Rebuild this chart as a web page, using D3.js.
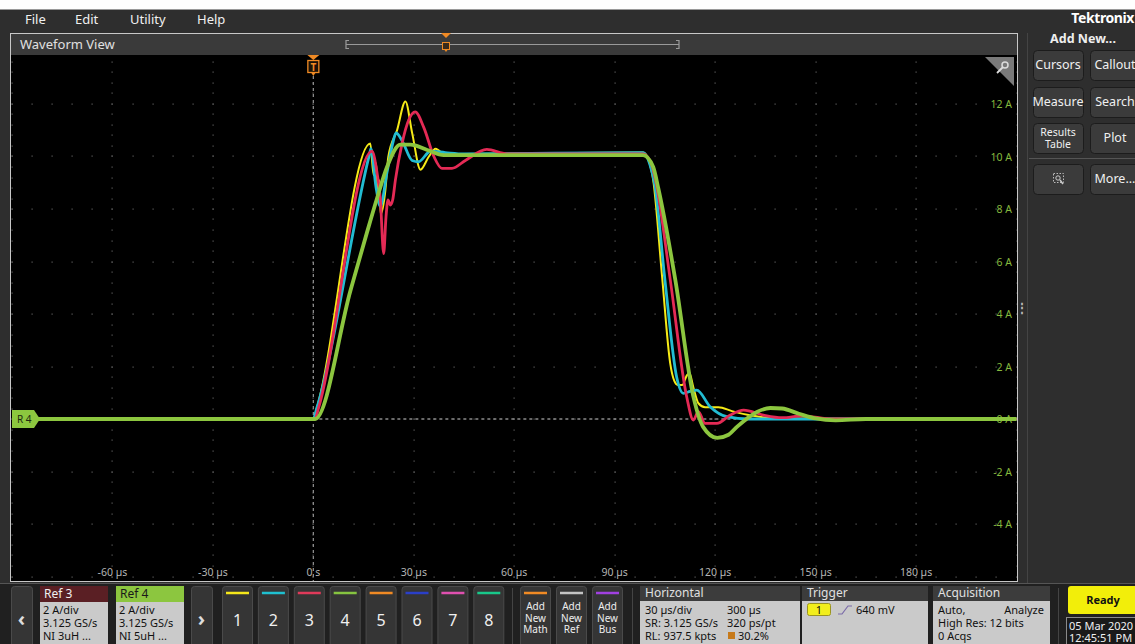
<!DOCTYPE html>
<html>
<head>
<meta charset="utf-8">
<script src="https://cdn.jsdelivr.net/npm/d3@7"></script>
<style>
  body { margin: 0; background: #fff; overflow: hidden; }
  svg { display: block; font-family: "Noto Sans", "Open Sans", sans-serif; }
</style>
</head>
<body>
<script>
window.onload = main;

// axis ticks
const timeTicks = [-60, -30, 0, 30, 60, 90, 120, 150, 180];
const timeLabels = ["-60 µs", "-30 µs", "0 s", "30 µs", "60 µs", "90 µs", "120 µs", "150 µs", "180 µs"];
const ampTicks = [12, 10, 8, 6, 4, 2, 0, -2, -4];
const ampLabels = ["12 A", "10 A", "8 A", "6 A", "4 A", "2 A", "0 A", "-2 A", "-4 A"];

// traces, time in µs, current in A
const yellowT = [-90, 0, 1, 17, 18, 18.7, 19.3, 19.7, 20.1, 21.5, 22.4, 25, 27.5, 29.5, 32, 34.5, 36.5, 39.5, 45, 98.5, 100, 101.5, 104.1, 106.6, 107.8, 108.8, 110.2, 111.5, 112.3, 113.5, 115, 117, 121, 125, 130, 140, 210];
const yellowI = [0, 0, 0.4, 10.5, 9.3, 9.75, 8.7, 9.1, 7.8, 8.7, 10.0, 11.0, 12.1, 10.9, 9.5, 10.0, 10.3, 10.05, 10.1, 10.15, 9.9, 9.1, 5.5, 2.1, 1.45, 1.3, 1.3, 1.65, 1.75, 1.2, 0.6, 0.45, 0.45, 0.3, 0.15, 0.02, 0];

const cyanT = [-90, 0, 1, 16.8, 17.2, 18.7, 20, 22, 23.7, 24.7, 26.5, 29.5, 31.4, 35, 39.4, 45, 98.5, 100.5, 102, 105, 108.5, 110.5, 112.5, 114.5, 118.5, 123.5, 130, 210];
const cyanI = [0, 0, 0.4, 10.1, 10.3, 8.85, 8.1, 9.4, 10.5, 10.9, 10.6, 9.85, 9.8, 10.2, 10.15, 10.1, 10.15, 9.7, 8.9, 5.3, 1.6, 0.98, 1.05, 1.1, 0.47, 0.09, 0, 0];

const redT = [-90, 0.5, 1.5, 17.5, 19, 20, 21, 21.7, 22.3, 23, 23.7, 24.5, 26.5, 28.5, 30.4, 33, 36, 38.4, 41.4, 45.4, 51.8, 57.8, 98.5, 101, 102.5, 106.6, 111.5, 113.5, 115, 117, 120.5, 124.5, 128.5, 134.4, 140, 146, 155, 210];
const redI = [0, 0, 0.4, 10.2, 9.4, 8.4, 6.3, 7.7, 8.35, 8.15, 8.35, 9.1, 10.5, 11.4, 11.7, 11.1, 10.0, 9.55, 9.55, 9.85, 10.27, 10.1, 10.1, 9.7, 8.9, 5.3, 0.85, -0.04, 0.28, -0.17, -0.17, 0.15, 0.34, 0.15, 0.05, 0.12, 0, 0];

const greenT = [-90, 0.5, 11.1, 16, 19, 22, 26, 29, 34, 38.9, 45.9, 98.5, 101.5, 103, 108.1, 113.5, 116.4, 120.6, 124, 126.5, 132.5, 136.5, 140, 145, 150, 156, 165, 210];
const greenI = [0, 0, 4.9, 7.1, 8.4, 9.6, 10.45, 10.45, 10.25, 10.05, 10.05, 10.05, 9.6, 8.8, 5.3, 0.85, -0.3, -0.72, -0.6, -0.3, 0.27, 0.42, 0.4, 0.2, 0.02, -0.05, 0, 0];

const menuItems = ["File", "Edit", "Utility", "Help"];
const menuX = [25, 75, 130, 197];

const chanNames = ["1", "2", "3", "4", "5", "6", "7", "8"];
const chanColors = ["#f5e71b", "#1fc0d0", "#e03a5a", "#86c440", "#f08a24", "#2a3fc8", "#e050b0", "#18c88a"];

const svgWidth = 1135;
const svgHeight = 644;

const plot = {left: 11, top: 55, right: 1017, bottom: 581};

function main() {
    const svg = d3.select("body")
        .append("svg")
        .attr("width", svgWidth)
        .attr("height", svgHeight);

    drawFrame(svg);
    drawPlot(svg);
    drawSidePanel(svg);
    drawBottomBar(svg);
}

function drawFrame(svg) {
    svg.append("rect").attr("x", 0).attr("y", 0).attr("width", svgWidth).attr("height", 9).attr("fill", "#fff");
    svg.append("rect").attr("x", 0).attr("y", 9).attr("width", svgWidth).attr("height", 574).attr("fill", "#2e2e2e");
    svg.append("line").attr("x1", 0).attr("x2", svgWidth).attr("y1", 9.5).attr("y2", 9.5).attr("stroke", "#9a9a9a");

    svg.selectAll(null)
        .data(menuItems)
        .join("text")
        .attr("x", (d, i) => menuX[i])
        .attr("y", 24)
        .attr("fill", "#f0f0f0")
        .attr("font-size", 13)
        .text(d => d);

    // waveform view panel header
    svg.append("rect").attr("x", 10).attr("y", 33).attr("width", 1007).attr("height", 22).attr("fill", "#3a3a3a");
    svg.append("rect").attr("x", 10.5).attr("y", 33.5).attr("width", 1007).attr("height", 548)
        .attr("fill", "none").attr("stroke", "#c8c8c8");
    svg.append("text").attr("x", 20).attr("y", 49).attr("fill", "#e0e0e0").attr("font-size", 13).text("Waveform View");

    // overview bar
    const ov = svg.append("g").attr("stroke", "#9a9a9a").attr("fill", "none").attr("stroke-width", 1.2);
    ov.append("line").attr("x1", 346).attr("x2", 679).attr("y1", 44.5).attr("y2", 44.5);
    ov.append("path").attr("d", "M349,40.5 H346 V48.5 H349");
    ov.append("path").attr("d", "M676,40.5 H679 V48.5 H676");
    svg.append("path").attr("d", "M441,33 H451 L446,38 Z").attr("fill", "#f08a24");
    svg.append("rect").attr("x", 442.5).attr("y", 42.5).attr("width", 7).attr("height", 7)
        .attr("fill", "#3a2a1a").attr("stroke", "#f08a24");
    svg.append("path").attr("d", "M444.5,50 L446,52 L447.5,50").attr("fill", "#f08a24");
}

function drawPlot(svg) {
    const x = d3.scaleLinear().domain([-90, 210]).range([12, 1016.5]);
    const y = d3.scaleLinear().domain([-6, 14]).range([576.5, 51.5]);

    svg.append("rect")
        .attr("x", plot.left).attr("y", plot.top)
        .attr("width", plot.right - plot.left).attr("height", plot.bottom - plot.top)
        .attr("fill", "#000");

    svg.append("clipPath").attr("id", "clip")
        .append("rect")
        .attr("x", plot.left).attr("y", plot.top)
        .attr("width", plot.right - plot.left).attr("height", plot.bottom - plot.top);

    const g = svg.append("g").attr("clip-path", "url(#clip)");

    // dotted graticule
    const majorT = d3.range(-90, 211, 30);
    const majorA = d3.range(-6, 15, 2);
    const dots = [];
    majorT.forEach(t => d3.range(-6, 14.01, 0.4).forEach(a => dots.push([t, a])));
    majorA.forEach(a => d3.range(-90, 210.01, 6).forEach(t => dots.push([t, a])));
    g.append("g")
        .selectAll(null)
        .data(dots)
        .join("rect")
        .attr("x", d => Math.round(x(d[0])) - 0.5)
        .attr("y", d => Math.round(y(d[1])) - 0.5)
        .attr("width", 1.2)
        .attr("height", 1.2)
        .attr("fill", "#5c5c5c");

    // trigger / zero reference lines
    g.append("line")
        .attr("x1", x(0)).attr("x2", x(0)).attr("y1", 76).attr("y2", plot.bottom)
        .attr("stroke", "#8a8a8a").attr("stroke-width", 1.3).attr("stroke-dasharray", "3,3");
    g.append("line")
        .attr("x1", x(0)).attr("x2", plot.right).attr("y1", y(0)).attr("y2", y(0))
        .attr("stroke", "#8a8a8a").attr("stroke-width", 1.3).attr("stroke-dasharray", "3,3");

    // tick labels
    g.selectAll(null)
        .data(timeTicks)
        .join("text")
        .attr("x", d => x(d))
        .attr("y", 576)
        .attr("text-anchor", "middle")
        .attr("fill", "#b4b4b4")
        .attr("font-size", 10.5)
        .text((d, i) => timeLabels[i]);

    g.selectAll(null)
        .data(ampTicks)
        .join("text")
        .attr("x", 1012)
        .attr("y", d => y(d) + 4)
        .attr("text-anchor", "end")
        .attr("fill", "#86b93e")
        .attr("font-size", 10.5)
        .text((d, i) => ampLabels[i]);

    // traces
    const line = d3.line()
        .x(d => x(d[0]))
        .y(d => y(d[1]))
        .curve(d3.curveMonotoneX);

    const traces = [
        {t: yellowT, v: yellowI, color: "#f6ea16", width: 2},
        {t: cyanT, v: cyanI, color: "#22bcd2", width: 2.8},
        {t: redT, v: redI, color: "#e42a55", width: 2.8},
        {t: greenT, v: greenI, color: "#8cc63f", width: 3.8}
    ];
    traces.forEach(tr => {
        g.append("path")
            .datum(tr.t.map((t, i) => [t, tr.v[i]]))
            .attr("d", line)
            .attr("fill", "none")
            .attr("stroke", tr.color)
            .attr("stroke-width", tr.width)
            .attr("stroke-linejoin", "round");
    });

    // zoom corner
    g.append("path").attr("d", "M985,57 H1014 V86 Z").attr("fill", "#7a7a7a");
    g.append("circle").attr("cx", 1005).attr("cy", 65).attr("r", 3).attr("fill", "none").attr("stroke", "#ddd").attr("stroke-width", 1.5);
    g.append("line").attr("x1", 1003).attr("y1", 67).attr("x2", 997).attr("y2", 73).attr("stroke", "#ddd").attr("stroke-width", 1.8);

    // trigger marker
    svg.append("path").attr("d", `M${x(0) - 6},55 H${x(0) + 6} L${x(0)},60 Z`).attr("fill", "#f08a24");
    svg.append("rect").attr("x", x(0) - 5.5).attr("y", 60.5).attr("width", 11).attr("height", 12)
        .attr("fill", "#1a1208").attr("stroke", "#f08a24").attr("stroke-width", 1.3);
    svg.append("text").attr("x", x(0)).attr("y", 70.5).attr("text-anchor", "middle")
        .attr("fill", "#f08a24").attr("font-size", 10).attr("font-weight", "bold").text("T");
    svg.append("path").attr("d", `M${x(0) - 2},73 L${x(0)},76 L${x(0) + 2},73 Z`).attr("fill", "#f08a24");

    // R4 marker
    const yr = y(0);
    svg.append("path")
        .attr("d", `M12,${yr - 9} H34 L40,${yr} L34,${yr + 9} H12 Z`)
        .attr("fill", "#8cc63f");
    svg.append("text").attr("x", 17).attr("y", yr + 4).attr("fill", "#1e2a10").attr("font-size", 10).text("R 4");
}

function drawSidePanel(svg) {
    svg.append("line").attr("x1", 1027.5).attr("x2", 1027.5).attr("y1", 33).attr("y2", 583).attr("stroke", "#444");
    svg.append("text").attr("x", 1022).attr("y", 312).attr("fill", "#bbb").attr("font-size", 12)
        .attr("text-anchor", "middle").attr("font-weight", "bold").text("⋮");

    svg.append("text").attr("x", 1134).attr("y", 23).attr("text-anchor", "end")
        .attr("fill", "#fff").attr("font-size", 14).attr("font-weight", "bold").attr("letter-spacing", -0.4).text("Tektronix");
    svg.append("text").attr("x", 1083).attr("y", 43).attr("text-anchor", "middle")
        .attr("fill", "#eee").attr("font-size", 12.5).attr("font-weight", "bold").text("Add New...");

    const btns = [
        {x: 1033, y: 50, lines: ["Cursors"]},
        {x: 1090, y: 50, lines: ["Callout"]},
        {x: 1033, y: 87, lines: ["Measure"]},
        {x: 1090, y: 87, lines: ["Search"]},
        {x: 1033, y: 123, lines: ["Results", "Table"]},
        {x: 1090, y: 123, lines: ["Plot"]},
        {x: 1033, y: 164, lines: [""]},
        {x: 1090, y: 164, lines: ["More..."]}
    ];
    const bg = svg.selectAll(null).data(btns).join("g");
    bg.append("rect")
        .attr("x", d => d.x + 0.5).attr("y", d => d.y + 0.5)
        .attr("width", 50).attr("height", 30).attr("rx", 4)
        .attr("fill", "#3b3b3b").attr("stroke", "#1c1c1c");
    bg.each(function (d) {
        const n = d.lines.length;
        d3.select(this).selectAll(null)
            .data(d.lines)
            .join("text")
            .attr("x", d.x + 25)
            .attr("y", (l, i) => d.y + 19 + (i - (n - 1) / 2) * 11.5)
            .attr("text-anchor", "middle")
            .attr("fill", "#f0f0f0")
            .attr("font-size", n > 1 ? 10.5 : 12.5)
            .text(l => l);
    });
    svg.append("line").attr("x1", 1029).attr("x2", 1135).attr("y1", 158.5).attr("y2", 158.5).attr("stroke", "#555");
    // zoom icon
    svg.append("rect").attr("x", 1053.5).attr("y", 173.5).attr("width", 10).attr("height", 9)
        .attr("fill", "none").attr("stroke", "#bbb").attr("stroke-dasharray", "1.5,1.5");
    svg.append("circle").attr("cx", 1058).attr("cy", 178).attr("r", 2.2).attr("fill", "none").attr("stroke", "#ccc");
    svg.append("line").attr("x1", 1060).attr("y1", 180).attr("x2", 1063).attr("y2", 184).attr("stroke", "#ccc").attr("stroke-width", 1.5);
}

function drawBottomBar(svg) {
    svg.append("rect").attr("x", 0).attr("y", 583).attr("width", svgWidth).attr("height", 61).attr("fill", "#202020");
    svg.append("line").attr("x1", 0).attr("x2", svgWidth).attr("y1", 583.5).attr("y2", 583.5).attr("stroke", "#555");

    const darkBtn = (x0, w) => svg.append("rect")
        .attr("x", x0 + 0.5).attr("y", 586.5).attr("width", w).attr("height", 62).attr("rx", 3)
        .attr("fill", "#353535").attr("stroke", "#4a4a4a");

    darkBtn(11, 21);
    svg.append("text").attr("x", 21.5).attr("y", 626).attr("text-anchor", "middle").attr("fill", "#ddd")
        .attr("font-size", 20).attr("font-weight", "bold").text("‹");
    darkBtn(191, 21);
    svg.append("text").attr("x", 201.5).attr("y", 626).attr("text-anchor", "middle").attr("fill", "#ddd")
        .attr("font-size", 20).attr("font-weight", "bold").text("›");

    const refs = [
        {x: 40, name: "Ref 3", head: "#5a1f24", headText: "#f0f0f0", lines: ["2 A/div", "3.125 GS/s", "NI 3uH ..."]},
        {x: 116, name: "Ref 4", head: "#8cc63f", headText: "#1a1a1a", lines: ["2 A/div", "3.125 GS/s", "NI 5uH ..."]}
    ];
    refs.forEach(r => {
        svg.append("rect").attr("x", r.x).attr("y", 602).attr("width", 68).attr("height", 44).attr("fill", "#cacaca");
        svg.append("rect").attr("x", r.x).attr("y", 586).attr("width", 68).attr("height", 16).attr("fill", r.head);
        svg.append("text").attr("x", r.x + 4).attr("y", 598).attr("fill", r.headText).attr("font-size", 12).text(r.name);
        svg.selectAll(null).data(r.lines).join("text")
            .attr("x", r.x + 3).attr("y", (d, i) => 614 + i * 13)
            .attr("fill", "#111").attr("font-size", 11).text(d => d);
    });

    // channel buttons
    const cg = svg.selectAll(null).data(chanNames).join("g")
        .attr("transform", (d, i) => `translate(${222 + i * 35.9},0)`);
    cg.append("rect").attr("x", 0.5).attr("y", 586.5).attr("width", 30).attr("height", 62).attr("rx", 3)
        .attr("fill", "#353535").attr("stroke", "#4a4a4a");
    cg.append("line").attr("x1", 4).attr("x2", 27).attr("y1", 593).attr("y2", 593)
        .attr("stroke", (d, i) => chanColors[i]).attr("stroke-width", 2.5);
    cg.append("text").attr("x", 15.5).attr("y", 626).attr("text-anchor", "middle")
        .attr("fill", "#f0f0f0").attr("font-size", 16).text(d => d);

    svg.append("line").attr("x1", 512.5).attr("x2", 512.5).attr("y1", 588).attr("y2", 644).attr("stroke", "#444");

    const adds = [
        {x: 520, color: "#f08a24", lines: ["Add", "New", "Math"]},
        {x: 556, color: "#c4c4c4", lines: ["Add", "New", "Ref"]},
        {x: 592, color: "#a040e0", lines: ["Add", "New", "Bus"]}
    ];
    adds.forEach(a => {
        svg.append("rect").attr("x", a.x + 0.5).attr("y", 586.5).attr("width", 30).attr("height", 62).attr("rx", 3)
            .attr("fill", "#353535").attr("stroke", "#4a4a4a");
        svg.append("line").attr("x1", a.x + 4).attr("x2", a.x + 27).attr("y1", 593).attr("y2", 593)
            .attr("stroke", a.color).attr("stroke-width", 2.5);
        svg.selectAll(null).data(a.lines).join("text")
            .attr("x", a.x + 15.5).attr("y", (d, i) => 610 + i * 11.5)
            .attr("text-anchor", "middle").attr("fill", "#eee").attr("font-size", 10).text(d => d);
    });

    svg.append("line").attr("x1", 632.5).attr("x2", 632.5).attr("y1", 588).attr("y2", 644).attr("stroke", "#444");

    const panel = (x0, w, title) => {
        svg.append("rect").attr("x", x0).attr("y", 586).attr("width", w).attr("height", 15).attr("fill", "#3c3c3c");
        svg.append("rect").attr("x", x0).attr("y", 601).attr("width", w).attr("height", 45).attr("fill", "#cacaca");
        svg.append("text").attr("x", x0 + 5).attr("y", 597).attr("fill", "#e0e0e0").attr("font-size", 12).text(title);
    };
    const txt = (x0, y0, s, anchor) => svg.append("text").attr("x", x0).attr("y", y0)
        .attr("text-anchor", anchor || "start").attr("fill", "#111").attr("font-size", 11).text(s);

    panel(640, 160, "Horizontal");
    txt(645, 614, "30 µs/div");
    txt(727, 614, "300 µs");
    txt(645, 627, "SR: 3.125 GS/s");
    txt(727, 627, "320 ps/pt");
    txt(645, 640, "RL: 937.5 kpts");
    svg.append("rect").attr("x", 728).attr("y", 632).attr("width", 7).attr("height", 7).attr("fill", "#c77a1a");
    txt(738, 640, "30.2%");

    panel(802, 126, "Trigger");
    svg.append("rect").attr("x", 807.5).attr("y", 603.5).attr("width", 23).attr("height", 12).attr("rx", 2)
        .attr("fill", "#f2ee1c").attr("stroke", "#9a9420");
    txt(819, 614, "1", "middle");
    svg.append("path").attr("d", "M838,614 H842 L848,606 H852").attr("fill", "none").attr("stroke", "#7a6aa8").attr("stroke-width", 1.2);
    txt(856, 614, "640 mV");

    panel(933, 117, "Acquisition");
    txt(938, 614, "Auto,");
    txt(1044, 614, "Analyze", "end");
    txt(938, 627, "High Res: 12 bits");
    txt(938, 640, "0 Acqs");

    svg.append("line").attr("x1", 1058.5).attr("x2", 1058.5).attr("y1", 588).attr("y2", 644).attr("stroke", "#444");

    svg.append("rect").attr("x", 1068).attr("y", 586).attr("width", 70).attr("height", 28).attr("rx", 3).attr("fill", "#f2ee0a");
    svg.append("text").attr("x", 1103).attr("y", 604).attr("text-anchor", "middle").attr("fill", "#111")
        .attr("font-size", 11).attr("font-weight", "bold").text("Ready");
    svg.append("rect").attr("x", 1066.5).attr("y", 617.5).attr("width", 72).attr("height", 30)
        .attr("fill", "#1a1a1a").attr("stroke", "#8a8a8a");
    svg.append("text").attr("x", 1069).attr("y", 630).attr("fill", "#f0f0f0").attr("font-size", 11).text("05 Mar 2020");
    svg.append("text").attr("x", 1069).attr("y", 642).attr("fill", "#f0f0f0").attr("font-size", 11).text("12:45:51 PM");
}
</script>
</body>
</html>
